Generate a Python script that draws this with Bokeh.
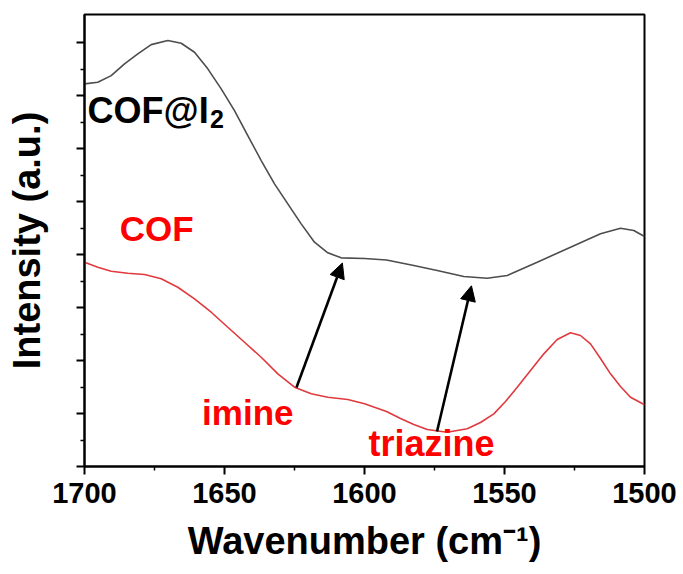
from bokeh.plotting import figure
from bokeh.models import Range1d, FixedTicker, Arrow, NormalHead
from bokeh.core.properties import value
from bokeh.embed import file_html
from bokeh.resources import INLINE

# FTIR spectra, offset vertically (arbitrary intensity units)
cof_i2_wn = [1700, 1695.25, 1690.46, 1685.71, 1680.96, 1676.18, 1670.25, 1665.46,
             1660.71, 1655.96, 1651.18, 1646.43, 1641.68, 1636.89, 1632.14, 1627.39,
             1622.61, 1617.86, 1613.11, 1608.32, 1600.0, 1592.14, 1582.39, 1574.04,
             1564.54, 1556.18, 1549.04, 1538.32, 1526.43, 1515.71, 1508.57, 1503.82,
             1500]
cof_i2_int = [7.221, 7.251, 7.377, 7.598, 7.787, 7.962, 8.038, 7.987,
              7.817, 7.504, 7.126, 6.717, 6.245, 5.774, 5.334, 4.957,
              4.579, 4.232, 4.032, 3.938, 3.925, 3.896, 3.792, 3.698,
              3.585, 3.553, 3.604, 3.855, 4.138, 4.391, 4.496, 4.453,
              4.340]

cof_wn = [1700, 1695.25, 1690.46, 1684.54, 1678.57, 1672.61, 1666.68, 1660.71,
          1654.75, 1648.82, 1642.86, 1636.89, 1630.96, 1625.0, 1619.04, 1613.11,
          1605.96, 1600.0, 1592.14, 1587.14, 1582.39, 1577.61, 1570.46, 1563.32,
          1558.57, 1553.82, 1549.64, 1545.46, 1540.71, 1535.96, 1531.18, 1526.43,
          1522.86, 1519.29, 1515.71, 1512.14, 1508.57, 1505.0, 1500]
cof_int = [3.855, 3.760, 3.685, 3.647, 3.623, 3.542, 3.383, 3.164,
           2.911, 2.628, 2.345, 2.062, 1.749, 1.496, 1.372, 1.308,
           1.264, 1.183, 1.038, 0.906, 0.792, 0.698, 0.647, 0.711,
           0.830, 0.994, 1.226, 1.496, 1.811, 2.126, 2.396, 2.523,
           2.472, 2.315, 2.038, 1.749, 1.509, 1.308, 1.164]

# band assignments: arrows from the COF band to the shifted COF@I2 band
imine_arrow = [1624.3, 1.49, 1607.9, 3.84]
triazine_arrow = [1574.1, 0.66, 1561.8, 3.41]

x_major = [1700, 1650, 1600, 1550, 1500]
x_minor = [1675, 1625, 1575, 1525]
y_major = [0, 1, 2, 3, 4, 5, 6, 7, 8]
y_minor = [0.5, 1.5, 2.5, 3.5, 4.5, 5.5, 6.5, 7.5]

FONT = value("Liberation Sans")

p = figure(width=683, height=574, output_backend="svg", toolbar_location=None,
           x_range=Range1d(1700, 1500), y_range=Range1d(0, 8.53),
           min_border_left=84, min_border_right=39, min_border_top=14,
           min_border_bottom=108)

p.line(cof_i2_wn, cof_i2_int, line_color="#4d4d4d", line_width=1.6)
p.line(cof_wn, cof_int, line_color="#e0393e", line_width=1.6)

for x0, y0, x1, y1 in (imine_arrow, triazine_arrow):
    p.add_layout(Arrow(x_start=x0, y_start=y0, x_end=x1, y_end=y1,
                       line_color="black", line_width=2.6,
                       end=NormalHead(size=15, fill_color="black", line_color="black")))

# sample and band labels
p.text(x=[1698.9], y=[6.72], text=["COF@I"], text_font=FONT, text_font_style="bold",
       text_font_size="36px", text_color="black", text_baseline="alphabetic")
p.text(x=[1655.2], y=[6.55], text=["2"], text_font=FONT, text_font_style="bold",
       text_font_size="25px", text_color="black", text_baseline="alphabetic")
p.text(x=[1687.4], y=[4.49], text=["COF"], text_font=FONT, text_font_style="bold",
       text_font_size="35px", text_color="#ff0000", text_baseline="alphabetic")
p.text(x=[1658.0], y=[1.02], text=["imine"], text_font=FONT, text_font_style="bold",
       text_font_size="35px", text_color="#ff0000", text_baseline="alphabetic")
p.text(x=[1598.6], y=[0.43], text=["triazine"], text_font=FONT, text_font_style="bold",
       text_font_size="36px", text_color="#ff0000", text_baseline="alphabetic")

p.xgrid.visible = False
p.ygrid.visible = False
p.outline_line_color = "black"
p.outline_line_width = 2

p.xaxis.ticker = FixedTicker(ticks=x_major, minor_ticks=x_minor)
p.yaxis.ticker = FixedTicker(ticks=y_major, minor_ticks=y_minor)

for ax in (p.xaxis[0], p.yaxis[0]):
    ax.axis_line_width = 2
    ax.major_tick_line_width = 2
    ax.minor_tick_line_width = 1.5
    ax.major_tick_out = 8
    ax.major_tick_in = 0
    ax.minor_tick_out = 4
    ax.minor_tick_in = 0
    ax.axis_label_text_font = "Liberation Sans"
    ax.axis_label_text_font_style = "bold"
    ax.axis_label_text_color = "black"
    ax.major_label_text_font = "Liberation Sans"
    ax.major_label_text_font_style = "bold"
    ax.major_label_text_color = "black"

p.xaxis.axis_label = "Wavenumber (cm\u207b\u00b9)"
p.xaxis.axis_label_text_font_size = "38px"
p.xaxis.major_label_text_font_size = "29px"
p.xaxis.major_label_standoff = 8
p.xaxis.axis_label_standoff = 14

# intensity axis carries ticks only, no numbers
p.yaxis.axis_label = "Intensity (a.u.)"
p.yaxis.axis_label_text_font_size = "38px"
p.yaxis.major_label_text_color = None
p.yaxis.major_label_text_font_size = "0px"
p.yaxis.major_label_standoff = 0
p.yaxis.axis_label_standoff = 29

open("out.html", "w").write(file_html(p, INLINE))
